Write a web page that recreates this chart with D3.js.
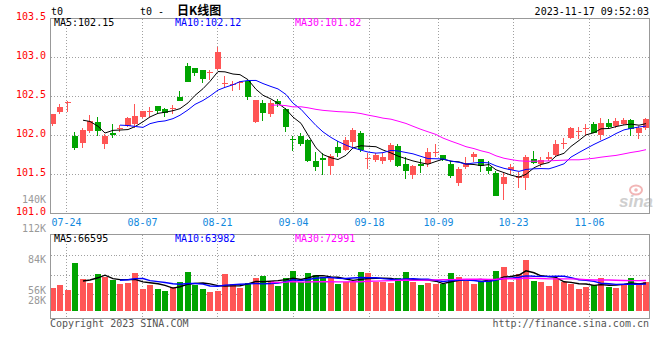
<!DOCTYPE html>
<html><head><meta charset="utf-8">
<script src="https://cdn.jsdelivr.net/npm/d3@7"></script>
<style>
body{margin:0;background:#fff}
svg{display:block}
text{font-family:"DejaVu Sans Mono",monospace;font-size:10px}
</style>
</head><body>
<svg id="c" width="660" height="360"></svg>
<script>
// ---------- data ----------
const dates = ["07-20","07-21","07-24","07-25","07-26","07-27","07-28","07-31","08-01","08-02",
"08-03","08-04","08-07","08-08","08-09","08-10","08-11","08-14","08-15","08-16",
"08-17","08-18","08-21","08-22","08-23","08-24","08-25","08-28","08-29","08-30",
"08-31","09-01","09-04","09-05","09-06","09-07","09-08","09-11","09-12","09-13",
"09-14","09-15","09-18","09-19","09-20","09-21","09-22","09-25","09-26","09-27",
"09-28","10-09","10-10","10-11","10-12","10-13","10-16","10-17","10-18","10-19",
"10-20","10-23","10-24","10-25","10-26","10-27","10-30","10-31","11-01","11-02",
"11-03","11-06","11-07","11-08","11-09","11-10","11-13","11-14","11-15","11-16"];

const openP = [102.15,102.30,102.42,102.00,101.90,102.06,102.17,101.89,102.03,102.08,
102.12,102.15,102.24,102.31,102.38,102.34,102.34,102.49,102.89,102.87,
102.84,102.81,102.85,102.66,102.65,102.67,102.70,102.17,102.42,102.28,
102.44,102.34,101.96,101.99,101.94,101.67,101.71,101.61,101.85,101.82,
101.92,102.03,101.70,101.68,101.67,101.68,101.86,101.63,101.50,101.64,
101.63,101.78,101.75,101.64,101.39,101.60,101.73,101.70,101.60,101.52,
101.38,101.56,101.45,101.45,101.70,101.63,101.70,101.75,101.90,101.97,
102.05,102.08,102.15,102.01,102.16,102.12,102.15,102.20,102.03,102.09];

const highP = [102.28,102.41,102.44,102.05,102.09,102.26,102.24,102.02,102.15,102.14,
102.24,102.41,102.32,102.37,102.38,102.35,102.39,102.57,102.93,102.87,
102.84,102.84,103.14,102.76,102.70,102.70,102.70,102.46,102.45,102.45,
102.47,102.35,102.00,102.03,101.95,101.79,101.77,101.76,101.93,101.98,
102.10,102.06,101.77,101.78,101.77,101.90,101.89,101.72,101.62,101.70,
101.84,101.89,101.75,101.67,101.59,101.73,101.79,101.70,101.67,101.54,
101.52,101.63,101.53,101.75,101.80,101.73,101.79,101.94,101.97,102.11,
102.11,102.15,102.17,102.22,102.21,102.22,102.23,102.21,102.12,102.23];

const lowP = [102.12,102.27,102.30,101.81,101.84,102.03,102.00,101.83,101.97,102.04,
102.11,102.10,102.23,102.24,102.27,102.24,102.27,102.44,102.68,102.76,
102.67,102.71,102.84,102.62,102.57,102.58,102.45,102.16,102.19,102.24,
102.37,102.05,101.80,101.86,101.66,101.54,101.49,101.49,101.72,101.80,
101.84,101.79,101.57,101.66,101.64,101.66,101.59,101.44,101.44,101.52,
101.60,101.72,101.67,101.46,101.35,101.57,101.66,101.53,101.51,101.22,
101.17,101.51,101.33,101.30,101.64,101.59,101.67,101.73,101.83,101.96,
101.96,102.00,102.03,101.94,102.10,102.10,102.13,102.00,101.95,102.07];

const closeP = [102.27,102.37,102.43,101.84,102.07,102.19,102.06,102.00,102.01,102.09,
102.22,102.25,102.31,102.32,102.32,102.29,102.35,102.44,102.69,102.80,
102.72,102.82,103.07,102.67,102.66,102.68,102.50,102.45,102.29,102.42,
102.41,102.11,101.95,101.89,101.67,101.59,101.68,101.74,101.78,101.94,
102.07,101.81,101.71,101.75,101.73,101.88,101.61,101.54,101.61,101.61,
101.79,101.79,101.68,101.48,101.57,101.65,101.76,101.61,101.55,101.23,
101.47,101.60,101.48,101.73,101.65,101.68,101.73,101.89,101.91,102.09,
102.06,102.09,102.03,102.16,102.11,102.18,102.20,102.08,102.09,102.21];

const volume = [54900,62700,50100,114500,76300,66800,88300,81800,73200,64400,
66800,90600,52500,62700,52500,47700,57300,69200,93000,62700,
52500,46000,48400,88300,64400,54900,66800,78700,84200,71600,
60400,79400,95400,69200,90600,85900,80400,81100,65100,69200,
69200,93000,90600,69200,69200,66800,78700,93000,69200,62000,
66800,64400,64400,90600,81100,70800,64400,70800,70800,95400,
105000,69200,88300,121700,71600,69200,59600,78700,69200,64400,
52500,57300,62000,78700,57300,54900,64400,78700,66800,69200];

const tickDates = ["07-24","08-07","08-21","09-04","09-18","10-09","10-23","11-06"];
const priceTicks = [101.0,101.5,102.0,102.5,103.0,103.5];
const volTickLabels = ["112K","84K","56K","28K"];
const maPeriods = [5,10,30];
const maColors = ["#000000","#0000ff","#ff00ff"];
const legendMain = ["MA5:102.15","MA10:102.12","MA30:101.82"];
const legendVol = ["MA5:66595","MA10:63982","MA30:72991"];

// ---------- layout ----------
const svg = d3.select("#c");
const L = 50.5, R = 649.5, T = 18.5, B = 213.5;
const VT = 234.5, VB = 318.5, VBase = 311;
const RED = "#ff5555", GREEN = "#00a400", GRID = "#a0a0a0", FRAME = "#999999";
const n = dates.length;

const x = d3.scaleBand().domain(d3.range(n)).range([49.5, 649.5]).paddingInner(0.2).paddingOuter(0);
const bw = Math.round(x.bandwidth());
const tickIdx = tickDates.map(d => dates.indexOf(d));
const xg = d3.scaleLinear().domain([tickIdx[0], tickIdx[tickIdx.length - 1]]).range([65.7, 589.3]);
const y = d3.scaleLinear().domain([101, 103.5]).range([B, T]);
const yv = d3.scaleLinear().domain([0, 182000]).range([VBase, 234.7]);

function movingAvg(arr, p) {
  const out = [];
  for (let i = p - 1; i < arr.length; i++) out.push({i, v: d3.mean(arr.slice(i - p + 1, i + 1))});
  return out;
}
const cx = i => Math.round(x(i)) + 3;

// watermark
const wm = svg.append("g");
wm.append("ellipse").attr("cx", 636).attr("cy", 190).attr("rx", 6).attr("ry", 4.5)
  .attr("fill", "none").attr("stroke", "#f2b6b6").attr("stroke-width", 2);
wm.append("circle").attr("cx", 636).attr("cy", 190).attr("r", 1.8).attr("fill", "#f2b6b6");
wm.append("text").attr("x", 636).attr("y", 207).attr("text-anchor", "middle")
  .style("font-family", "'Liberation Sans',Arial,sans-serif").style("font-size", "17px")
  .style("font-weight", "bold").style("font-style", "italic").attr("fill", "#cfcfcf").text("sina");

// grid
const grid = svg.append("g").attr("stroke", GRID).attr("stroke-dasharray", "1,2").attr("shape-rendering", "crispEdges");
tickIdx.forEach(i => {
  const gx = Math.round(xg(i)) + 0.5;
  grid.append("line").attr("x1", gx).attr("x2", gx).attr("y1", T).attr("y2", B);
  grid.append("line").attr("x1", gx).attr("x2", gx).attr("y1", VT).attr("y2", VB);
});
priceTicks.filter(p => p > 101 && p < 103.5).forEach(p => {
  const gy = Math.round(y(p) - 0.5) + 0.5;
  grid.append("line").attr("x1", L).attr("x2", R).attr("y1", gy).attr("y2", gy);
});
[255.5, 275.5, 294.5].forEach(gy => {
  grid.append("line").attr("x1", L).attr("x2", R).attr("y1", gy).attr("y2", gy);
});

// candles
const cg = svg.append("g").attr("shape-rendering", "crispEdges");
d3.range(n).forEach(i => {
  const o = openP[i], c = closeP[i];
  const col = c >= o ? RED : GREEN;
  const bx = Math.round(x(i));
  const yh = Math.round(y(highP[i])), yl = Math.round(y(lowP[i]));
  cg.append("rect").attr("x", bx + 2).attr("width", 1).attr("y", yh).attr("height", Math.max(1, yl - yh)).attr("fill", col);
  const yt = Math.round(y(Math.max(o, c))), yb = Math.round(y(Math.min(o, c)));
  cg.append("rect").attr("x", bx).attr("width", bw).attr("y", yt).attr("height", Math.max(1, yb - yt)).attr("fill", col);
});

// price MAs
maPeriods.forEach((p, k) => {
  const d = movingAvg(closeP, p);
  svg.append("path").datum(d).attr("fill", "none").attr("stroke", maColors[k]).attr("stroke-width", 1)
    .attr("d", d3.line().x(e => cx(e.i)).y(e => y(e.v)));
});

// volume bars
const vg = svg.append("g").attr("shape-rendering", "crispEdges");
d3.range(n).forEach(i => {
  const col = closeP[i] >= openP[i] ? RED : GREEN;
  const top = Math.round(yv(volume[i]));
  vg.append("rect").attr("x", Math.round(x(i))).attr("width", bw).attr("y", top)
    .attr("height", VBase - top).attr("fill", col);
});
maPeriods.forEach((p, k) => {
  const d = movingAvg(volume, p);
  svg.append("path").datum(d).attr("fill", "none").attr("stroke", maColors[k]).attr("stroke-width", 1.4)
    .attr("d", d3.line().x(e => cx(e.i)).y(e => yv(e.v)));
});

// frames
const fr = svg.append("g").attr("fill", "none").attr("stroke", FRAME).attr("shape-rendering", "crispEdges");
fr.append("rect").attr("x", L).attr("y", T).attr("width", R - L).attr("height", B - T);
fr.append("rect").attr("x", L).attr("y", VT).attr("width", R - L).attr("height", VB - VT);

// price labels
priceTicks.forEach(p => {
  svg.append("text").attr("x", 46).attr("y", y(p) + 1.5).attr("text-anchor", "end")
    .attr("fill", "#ff0000").text(p.toFixed(1));
});
svg.append("text").attr("x", 46).attr("y", 203).attr("text-anchor", "end").attr("fill", "#999").text("140K");

// volume labels
const volLabelY = [232, 263, 294, 304];
volTickLabels.forEach((t, k) => {
  svg.append("text").attr("x", 46).attr("y", volLabelY[k]).attr("text-anchor", "end").attr("fill", "#999").text(t);
});

// date labels
tickDates.forEach((d, k) => {
  svg.append("text").attr("x", Math.round(xg(tickIdx[k])) + 0.5).attr("y", 225.5).attr("text-anchor", "middle")
    .attr("fill", "#1188dd").text(d);
});

// legends
const legX = [54, 175, 295];
legendMain.forEach((t, k) => svg.append("text").attr("x", legX[k]).attr("y", 26).attr("fill", maColors[k]).text(t));
legendVol.forEach((t, k) => svg.append("text").attr("x", legX[k]).attr("y", 242).attr("fill", maColors[k]).text(t));

// header
svg.append("text").attr("x", 51).attr("y", 15).attr("fill", "#000").text("t0");
const title = svg.append("text").attr("y", 14.5).attr("fill", "#000");
title.append("tspan").attr("x", 140).text("t0 -");
title.append("tspan").attr("x", 177).style("font-family", "'Noto Sans CJK SC',sans-serif")
  .style("font-size", "12px").style("font-weight", "bold").text("日K线图");
svg.append("text").attr("x", 649).attr("y", 14.5).attr("text-anchor", "end").attr("fill", "#000").text("2023-11-17 09:52:03");

// footer
svg.append("text").attr("x", 50).attr("y", 327).attr("fill", "#555").text("Copyright 2023 SINA.COM");
svg.append("text").attr("x", 649).attr("y", 327).attr("text-anchor", "end").attr("fill", "#555").text("http://finance.sina.com.cn");
</script>
</body></html>
